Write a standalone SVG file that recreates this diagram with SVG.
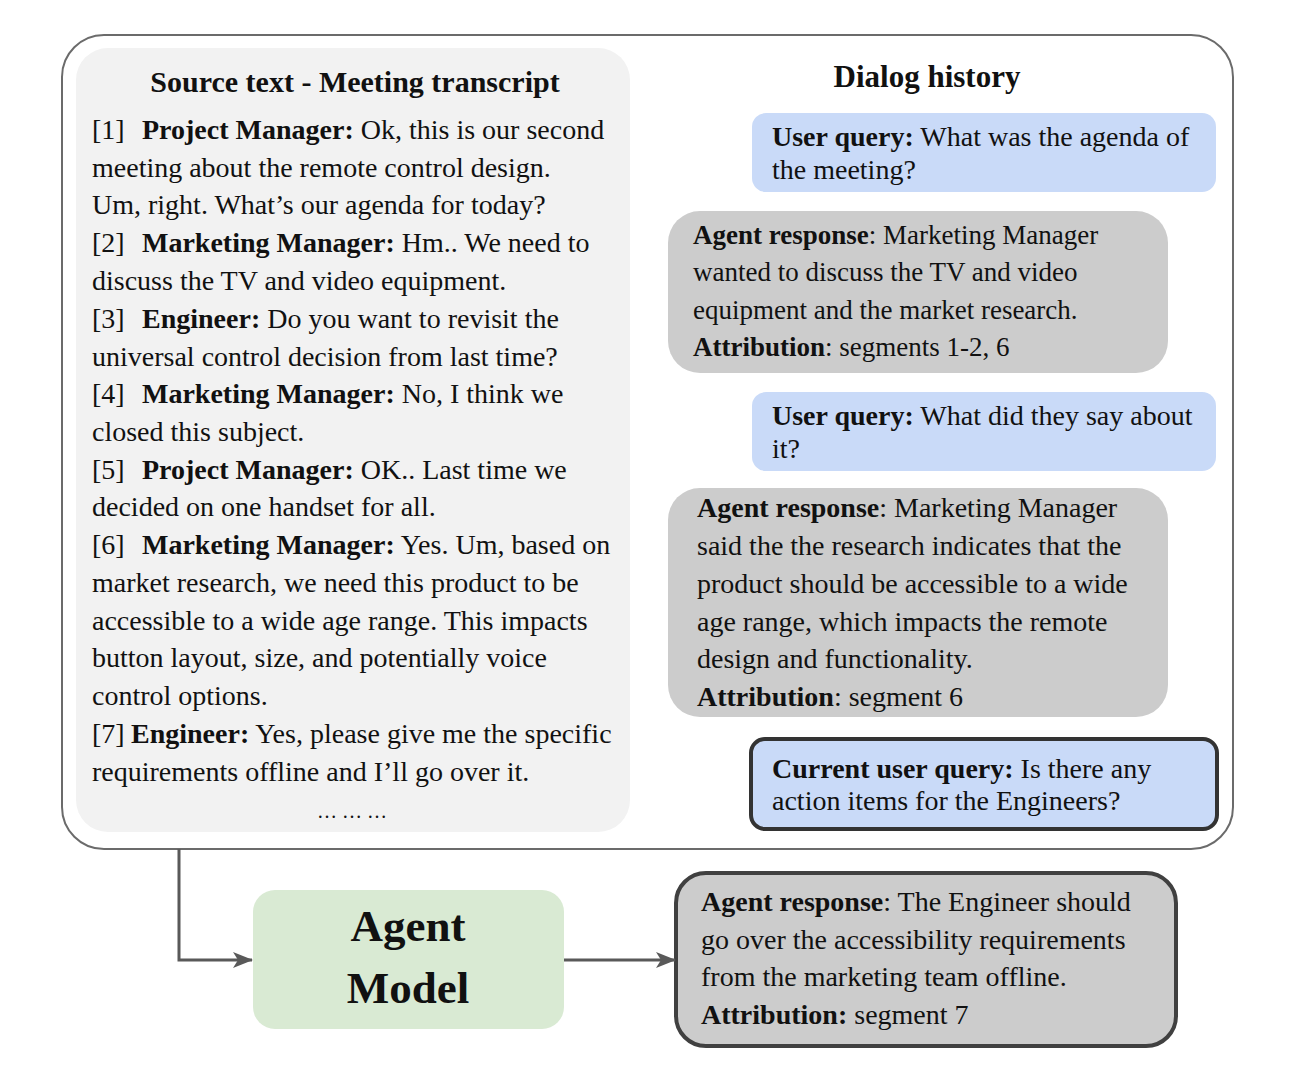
<svg xmlns="http://www.w3.org/2000/svg" width="1307" height="1084" viewBox="0 0 1307 1084">
<style>
text{font-family:"Liberation Serif","DejaVu Serif",serif;fill:#111;font-size:28px}
.b{font-weight:bold}
.t{font-weight:bold;font-size:30px}
.s{font-size:27px}
.blue{fill:#c9daf8}
.gray{fill:#cccccc}
.conn{stroke:#595959;stroke-width:3;fill:none}
</style>
<defs>
<marker id="ah" viewBox="0 0 20 16" refX="19" refY="8" markerWidth="20" markerHeight="16" markerUnits="userSpaceOnUse" orient="auto">
<path d="M0,0 L20,8 L0,16 L5,8 z" fill="#595959"/>
</marker>
</defs>
<rect width="1307" height="1084" fill="#fff"/>
<g id="frame"><rect x="62" y="35" width="1171" height="814" rx="42" fill="#fff" stroke="#6b6b6b" stroke-width="2"/></g>
<g id="source">
<rect x="76" y="48" width="554" height="784" rx="32" fill="#f2f2f2"/>
<text class="t" x="355" y="92" text-anchor="middle">Source text - Meeting transcript</text>
<text x="92" y="139">[1]<tspan x="142" class="b">Project Manager:</tspan> Ok, this is our second</text>
<text x="92" y="177">meeting about the remote control design.</text>
<text x="92" y="214">Um, right. What’s our agenda for today?</text>
<text x="92" y="252">[2]<tspan x="142" class="b">Marketing Manager:</tspan> Hm.. We need to</text>
<text x="92" y="290">discuss the TV and video equipment.</text>
<text x="92" y="328">[3]<tspan x="142" class="b">Engineer:</tspan> Do you want to revisit the</text>
<text x="92" y="366">universal control decision from last time?</text>
<text x="92" y="403">[4]<tspan x="142" class="b">Marketing Manager:</tspan> No, I think we</text>
<text x="92" y="441">closed this subject.</text>
<text x="92" y="479">[5]<tspan x="142" class="b">Project Manager:</tspan> OK.. Last time we</text>
<text x="92" y="516">decided on one handset for all.</text>
<text x="92" y="554">[6]<tspan x="142" class="b">Marketing Manager:</tspan> Yes. Um, based on</text>
<text x="92" y="592">market research, we need this product to be</text>
<text x="92" y="630">accessible to a wide age range. This impacts</text>
<text x="92" y="667">button layout, size, and potentially voice</text>
<text x="92" y="705">control options.</text>
<text x="92" y="743">[7]<tspan x="131" class="b">Engineer:</tspan> Yes, please give me the specific</text>
<text x="92" y="781">requirements offline and I’ll go over it.</text>
<text x="352" y="818" text-anchor="middle" style="font-size:20px">… … …</text>
</g>
<g id="dialog-title"><text class="t" x="927" y="87" text-anchor="middle" style="font-size:31px">Dialog history</text></g>
<g id="q1">
<rect class="blue" x="752" y="113" width="464" height="79" rx="14"/>
<text x="772" y="146"><tspan class="b">User query:</tspan> What was the agenda of</text>
<text x="772" y="179">the meeting?</text>
</g>
<g id="r1">
<rect class="gray" x="668" y="211" width="500" height="162" rx="32"/>
<text class="s" x="693" y="244"><tspan class="b">Agent response</tspan>: Marketing Manager</text>
<text class="s" x="693" y="281">wanted to discuss the TV and video</text>
<text class="s" x="693" y="319">equipment and the market research.</text>
<text class="s" x="693" y="356"><tspan class="b">Attribution</tspan>: segments 1-2, 6</text>
</g>
<g id="q2">
<rect class="blue" x="752" y="392" width="464" height="79" rx="14"/>
<text x="772" y="425"><tspan class="b">User query:</tspan> What did they say about</text>
<text x="772" y="458">it?</text>
</g>
<g id="r2">
<rect class="gray" x="668" y="488" width="500" height="229" rx="32"/>
<text x="697" y="517"><tspan class="b">Agent response</tspan>: Marketing Manager</text>
<text x="697" y="555">said the the research indicates that the</text>
<text x="697" y="593">product should be accessible to a wide</text>
<text x="697" y="631">age range, which impacts the remote</text>
<text x="697" y="668">design and functionality.</text>
<text x="697" y="706"><tspan class="b">Attribution</tspan>: segment 6</text>
</g>
<g id="q3">
<rect class="blue" x="751" y="739" width="466" height="90" rx="14" stroke="#333" stroke-width="4"/>
<text x="772" y="778"><tspan class="b">Current user query:</tspan> Is there any</text>
<text x="772" y="810">action items for the Engineers?</text>
</g>
<g id="model">
<rect x="253" y="890" width="311" height="139" rx="22" fill="#d9ead3"/>
<text x="408" y="941" text-anchor="middle" class="b" style="font-size:45px">Agent</text>
<text x="408" y="1003" text-anchor="middle" class="b" style="font-size:45px">Model</text>
</g>
<g id="response">
<rect class="gray" x="676" y="873" width="500" height="173" rx="30" stroke="#404040" stroke-width="4"/>
<text x="701" y="911"><tspan class="b">Agent response</tspan>: The Engineer should</text>
<text x="701" y="949">go over the accessibility requirements</text>
<text x="701" y="986">from the marketing team offline.</text>
<text x="701" y="1024"><tspan class="b">Attribution:</tspan> segment 7</text>
</g>
<g id="connectors">
<path class="conn" d="M179,849 V960 H252" marker-end="url(#ah)"/>
<path class="conn" d="M564,960 H675" marker-end="url(#ah)"/>
</g>
</svg>
